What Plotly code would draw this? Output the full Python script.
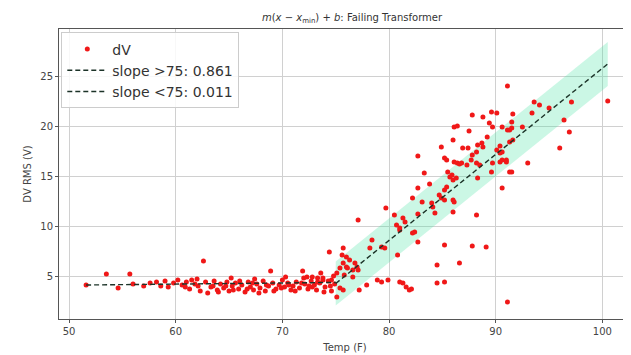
import plotly.graph_objects as go

# ---- data ----
temp = [
    51.6, 53.5, 54.6, 55.7, 56.0, 57.0, 57.6, 58.2, 58.6, 59.0, 59.3, 59.8,
    60.2, 60.6, 60.9, 61.0, 61.3, 61.5, 61.8, 62.0, 62.1, 62.3, 62.6, 62.8,
    63.0, 63.3, 63.5, 63.6, 63.9, 64.0, 64.2, 64.5, 64.7, 64.8, 65.0, 65.2,
    65.3, 65.4, 65.6, 65.9, 66.0, 66.2, 66.5, 66.7, 66.8, 67.0, 67.2, 67.3,
    67.4, 67.6, 67.8, 67.9, 68.2, 68.4, 68.5, 68.7, 68.9, 69.1, 69.2, 69.4,
    69.7, 69.9, 70.0, 70.2, 70.3, 70.5, 70.6, 70.8, 71.0, 71.2, 71.3, 71.6,
    71.8, 71.9, 72.0, 72.1, 72.3, 72.4, 72.5, 72.7, 72.8, 72.8, 73.0, 73.2,
    73.3, 73.3, 73.5, 73.6, 73.8, 73.8, 73.9, 74.0, 74.3, 74.4, 74.5, 74.6,
    74.6, 74.8, 74.9,
    # transition region
    75.1, 75.1, 75.4, 75.4, 75.6, 75.7, 75.7, 75.7, 75.8, 76.0, 76.0, 76.1,
    76.3, 76.6, 76.6, 76.8, 77.0, 77.1, 77.1, 77.2, 77.9, 78.2, 78.4, 78.9,
    79.3, 79.3, 79.6, 79.7, 79.9, 80.5, 80.7, 80.8, 81.0, 81.0, 81.0, 81.3,
    81.3, 81.5, 81.6, 81.9, 82.1, 82.2, 82.2, 82.4, 82.7, 82.7, 82.7, 82.7,
    # rising region
    83.1, 83.3, 83.8, 84.0, 84.1, 84.3, 84.5, 84.5, 84.7, 84.9, 84.9, 85.2,
    85.2, 85.2, 85.2, 85.2, 85.4, 85.4, 85.5, 85.7, 85.9, 86.0, 86.0, 86.0,
    86.0, 86.1, 86.1, 86.1, 86.3, 86.4, 86.4, 86.6, 86.6, 86.8, 86.9, 87.3,
    87.4, 87.5, 87.7, 87.8, 87.8, 87.8, 88.2, 88.2, 88.2, 88.3, 88.3, 88.5,
    88.7, 88.8, 88.8, 89.1, 89.2, 89.4, 89.6, 89.6, 89.7, 89.7, 90.1, 90.1,
    90.4, 90.4, 90.4, 90.6, 90.6, 90.6, 90.6, 91.0, 91.0, 91.1, 91.1, 91.1,
    91.3, 91.3, 91.3, 91.5, 91.5, 91.5, 91.6, 91.6, 92.5, 93.0, 93.4, 93.6,
    94.1, 95.0, 96.0, 96.4, 96.9, 97.1, 100.5,
]
dv = [
    4.1, 5.2, 3.8, 5.2, 4.2, 4.0, 4.3, 4.4, 4.0, 4.5, 3.9, 4.3,
    4.6, 4.1, 3.9, 4.4, 3.7, 4.6, 4.2, 4.7, 4.0, 3.5, 6.5, 4.4,
    3.3, 3.9, 4.0, 4.5, 3.6, 3.4, 4.2, 3.8, 4.0, 4.4, 3.5, 4.8,
    4.0, 3.6, 4.3, 3.7, 4.5, 4.1, 3.4, 3.7, 4.4, 3.9, 4.3, 3.6,
    4.7, 4.2, 3.3, 3.8, 4.5, 3.5, 4.1, 4.0, 5.5, 4.3, 3.5, 3.7,
    4.1, 3.8, 4.6, 3.9, 4.9, 4.3, 4.1, 3.6, 4.0, 3.5, 4.4, 3.8,
    4.3, 5.5, 4.8, 4.2, 4.9, 3.7, 4.0, 4.5, 4.9, 3.9, 4.1, 3.6,
    4.8, 4.4, 4.3, 5.3, 4.6, 4.8, 3.4, 3.9, 4.5, 7.4, 4.0, 3.5,
    4.6, 5.0, 4.2,
    5.3, 2.9, 5.8, 3.8, 7.1, 7.8, 6.3, 3.6, 5.1, 6.9, 5.9, 5.8,
    6.6, 5.6, 4.9, 6.3, 5.9, 10.6, 5.6, 3.6, 4.1, 7.8, 8.6, 4.6,
    7.9, 4.4, 7.8, 11.8, 4.6, 11.1, 10.1, 7.1, 9.6, 9.8, 4.4, 10.8,
    4.3, 10.4, 3.9, 3.6, 3.7, 12.8, 9.3, 9.4, 8.4, 13.8, 17.0, 11.2,
    12.4, 15.3, 14.2, 12.3, 11.9, 11.3, 6.1, 4.3, 13.1, 17.9, 12.8, 13.6,
    12.6, 8.1, 4.4, 16.8, 16.6, 13.9, 15.4, 14.9, 15.1, 18.6, 14.6, 12.6,
    11.4, 16.4, 12.4, 19.9, 14.8, 16.3, 20.0, 6.3, 16.2, 16.3, 17.8, 16.1,
    17.8, 19.5, 16.6, 21.1, 17.1, 8.0, 17.4, 16.3, 11.1, 18.1, 14.8, 16.1,
    18.3, 17.9, 20.9, 7.9, 18.9, 20.3, 21.4, 15.4, 19.9, 16.3, 21.3, 17.6,
    17.3, 16.4, 18.0, 19.9, 17.4, 16.6, 13.8, 16.6, 16.4, 24.0, 19.6, 2.4,
    19.6, 15.4, 18.4, 20.4, 19.8, 15.4, 21.2, 18.6, 19.9, 16.3, 21.3, 22.4,
    22.1, 21.8, 17.8, 20.6, 19.4, 22.4, 22.5,
]

# fitted pieces
hi_slope, hi_start, hi_intercept = 0.861, 75.0, 4.25
lo_slope, lo_start, lo_intercept = 0.011, 51.6, 4.1
band_half_width = 2.2
hi_x = [75.0, 100.5]
lo_x = [51.6, 75.0]

hi_y = [hi_slope * (x - hi_start) + hi_intercept for x in hi_x]
lo_y = [lo_slope * (x - lo_start) + lo_intercept for x in lo_x]
band_top = [v + band_half_width for v in hi_y]
band_bot = [v - band_half_width for v in hi_y]

fig = go.Figure()

# confidence band
fig.add_trace(go.Scatter(x=hi_x, y=band_bot, mode="lines", line=dict(width=0),
                         showlegend=False, hoverinfo="skip"))
fig.add_trace(go.Scatter(x=hi_x, y=band_top, mode="lines", line=dict(width=0),
                         fill="tonexty", fillcolor="rgba(70,225,160,0.28)",
                         showlegend=False, hoverinfo="skip"))

fig.add_trace(go.Scatter(x=temp, y=dv, mode="markers", name="dV",
                         marker=dict(color="#f01818", size=5,
                                     line=dict(width=0))))
fig.add_trace(go.Scatter(x=hi_x, y=hi_y, mode="lines", name="slope >75: 0.861",
                         line=dict(color="#1c3328", width=1.4, dash="5px,3px")))
fig.add_trace(go.Scatter(x=lo_x, y=lo_y, mode="lines", name="slope <75: 0.011",
                         line=dict(color="#1c3328", width=1.4, dash="5px,3px")))

axis_common = dict(
    showgrid=True, gridcolor="#d0d0d0", gridwidth=1,
    showline=True, linecolor="#555555", linewidth=1,
    ticks="outside", ticklen=3, tickcolor="#555555",
    tickfont=dict(family="DejaVu Sans", size=10, color="#444444"),
    zeroline=False,
)

# the page body has an 8px margin, so the figure is placed 8px right/down
fig.update_layout(
    width=623, height=347,
    margin=dict(l=51, r=0, t=21, b=36, autoexpand=False),
    paper_bgcolor="white", plot_bgcolor="white",
    title=dict(
        text="<i>m</i>(<i>x</i> − <i>x</i><sub>min</sub>) + <i>b</i>: Failing Transformer",
        x=(352 - 8) / 623, xanchor="center", xref="container",
        y=1 - 9 / 347, yanchor="middle", yref="container",
        font=dict(family="DejaVu Sans", size=10, color="#333333"),
    ),
    xaxis=dict(range=[49.06, 102.68], tickvals=[50, 60, 70, 80, 90, 100],
               mirror=True,
               title=dict(text="Temp (F)", standoff=7,
                          font=dict(family="DejaVu Sans", size=10, color="#444444")),
               **axis_common),
    yaxis=dict(range=[0.7, 29.7], tickvals=[5, 10, 15, 20, 25],
               mirror=False,
               title=dict(text="DV RMS (V)", standoff=6,
                          font=dict(family="DejaVu Sans", size=10, color="#444444")),
               **axis_common),
    legend=dict(x=0.004, y=0.988, xanchor="left", yanchor="top",
                traceorder="normal",
                bgcolor="rgba(255,255,255,0.85)", bordercolor="#cccccc",
                borderwidth=1, font=dict(family="DejaVu Sans", size=14, color="#333333"),
                tracegroupgap=0, itemwidth=40),
    showlegend=True,
)

fig.write_html("out.html")
